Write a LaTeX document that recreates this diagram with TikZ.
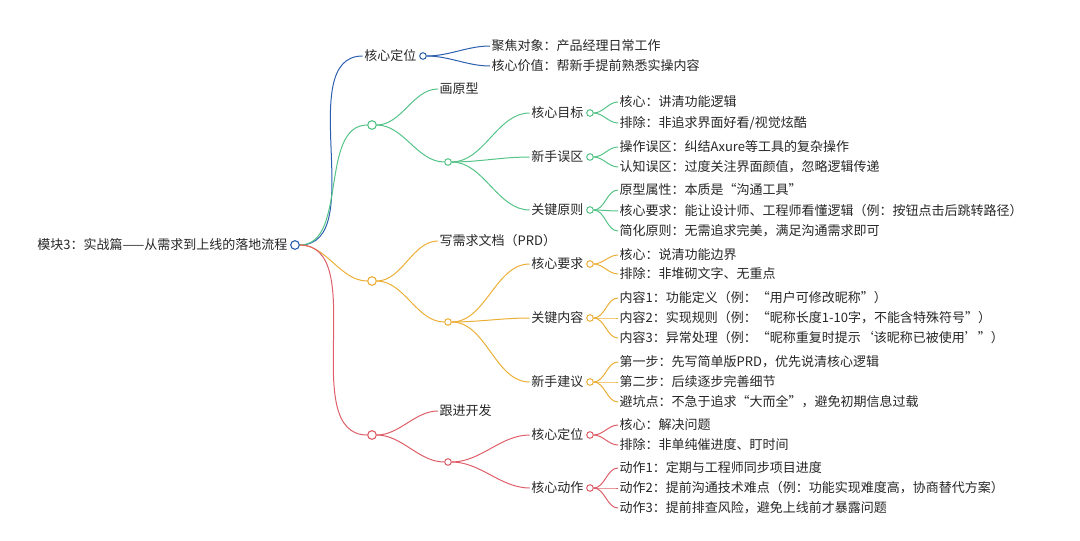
\documentclass[tikz,border=0pt]{standalone}
\usepackage{fontspec}
\setmainfont{Noto Sans CJK SC}
\begin{document}
\begin{tikzpicture}[x=1pt,y=-1pt,
  txt/.style={anchor=west,inner sep=1.5pt,font=\fontsize{13}{15}\selectfont,text=black!85},
  dot/.style={circle,minimum size=9pt,inner sep=0pt},
  sdot/.style={circle,minimum size=7pt,inner sep=0pt},
  ln/.style={draw=#1,line width=1pt,out=0,in=180,looseness=0.9}]
\definecolor{cb}{RGB}{45,95,175}
\definecolor{cg}{RGB}{85,195,135}
\definecolor{co}{RGB}{235,175,55}
\definecolor{cr}{RGB}{222,95,105}
\useasboundingbox (0,0) rectangle (1080,541);
% root
\node[txt,anchor=east] (roott) at (289,245) {模块3：实战篇——从需求到上线的落地流程};
\node[dot] (root) at (295,245) {};
% blue
\node[txt,anchor=east] (bt) at (418,56) {核心定位};
\node[sdot] (b) at (423,56) {};
\node[txt] (b1) at (490,46) {聚焦对象：产品经理日常工作};
\node[txt] (b2) at (490,66) {核心价值：帮新手提前熟悉实操内容};
\draw[ln=cb] (root) to (bt.west);
\foreach \l in {b1,b2} \draw[ln=cb] (b) to (\l.west);
% green
\node[dot] (g) at (372,125) {};
\node[txt] (gt) at (438,89) {画原型};
\node[sdot] (g2) at (448,162) {};
\node[txt,anchor=east] (g21t) at (585,113) {核心目标}; \node[sdot] (g21) at (590,113) {};
\node[txt,anchor=east] (g22t) at (585,157) {新手误区}; \node[sdot] (g22) at (590,157) {};
\node[txt,anchor=east] (g23t) at (585,210) {关键原则}; \node[sdot] (g23) at (590,210) {};
\node[txt] (l1) at (618,102) {核心：讲清功能逻辑};
\node[txt] (l2) at (618,123) {排除：非追求界面好看/视觉炫酷};
\node[txt] (l3) at (618,147) {操作误区：纠结Axure等工具的复杂操作};
\node[txt] (l4) at (618,167) {认知误区：过度关注界面颜值，忽略逻辑传递};
\node[txt] (l5) at (618,190) {原型属性：本质是“沟通工具”};
\node[txt] (l6) at (618,211) {核心要求：能让设计师、工程师看懂逻辑（例：按钮点击后跳转路径）};
\node[txt] (l7) at (618,231) {简化原则：无需追求完美，满足沟通需求即可};
\draw[ln=cg] (root) to (g.west);
\draw[ln=cg] (g) to (gt.west);
\draw[ln=cg] (g) to (g2.west);
\foreach \t in {g21t,g22t,g23t} \draw[ln=cg] (g2) to (\t.west);
\foreach \l in {l1,l2} \draw[ln=cg] (g21) to (\l.west);
\foreach \l in {l3,l4} \draw[ln=cg] (g22) to (\l.west);
\foreach \l in {l5,l6,l7} \draw[ln=cg] (g23) to (\l.west);
% orange
\node[dot] (o) at (372,281) {};
\node[txt] (ot) at (438,241) {写需求文档（PRD）};
\node[sdot] (o2) at (448,322) {};
\node[txt,anchor=east] (o21t) at (585,264) {核心要求}; \node[sdot] (o21) at (590,264) {};
\node[txt,anchor=east] (o22t) at (585,318) {关键内容}; \node[sdot] (o22) at (590,318) {};
\node[txt,anchor=east] (o23t) at (585,382) {新手建议}; \node[sdot] (o23) at (590,382) {};
\node[txt] (m1) at (618,255) {核心：说清功能边界};
\node[txt] (m2) at (618,274) {排除：非堆砌文字、无重点};
\node[txt] (m3) at (618,298) {内容1：功能定义（例：“用户可修改昵称”）};
\node[txt] (m4) at (618,318) {内容2：实现规则（例：“昵称长度1-10字，不能含特殊符号”）};
\node[txt] (m5) at (618,338) {内容3：异常处理（例：“昵称重复时提示‘该昵称已被使用’”）};
\node[txt] (m6) at (618,362) {第一步：先写简单版PRD，优先说清核心逻辑};
\node[txt] (m7) at (618,382) {第二步：后续逐步完善细节};
\node[txt] (m8) at (618,402) {避坑点：不急于追求“大而全”，避免初期信息过载};
\draw[ln=co] (root) to (o.west);
\draw[ln=co] (o) to (ot.west);
\draw[ln=co] (o) to (o2.west);
\foreach \t in {o21t,o22t,o23t} \draw[ln=co] (o2) to (\t.west);
\foreach \l in {m1,m2} \draw[ln=co] (o21) to (\l.west);
\foreach \l in {m3,m4,m5} \draw[ln=co] (o22) to (\l.west);
\foreach \l in {m6,m7,m8} \draw[ln=co] (o23) to (\l.west);
% red
\node[dot] (r) at (372,435) {};
\node[txt] (rt) at (438,411) {跟进开发};
\node[sdot] (r2) at (448,462) {};
\node[txt,anchor=east] (r21t) at (585,435) {核心定位}; \node[sdot] (r21) at (590,435) {};
\node[txt,anchor=east] (r22t) at (585,488) {核心动作}; \node[sdot] (r22) at (590,488) {};
\node[txt] (n1) at (618,425) {核心：解决问题};
\node[txt] (n2) at (618,445) {排除：非单纯催进度、盯时间};
\node[txt] (n3) at (618,468) {动作1：定期与工程师同步项目进度};
\node[txt] (n4) at (618,488) {动作2：提前沟通技术难点（例：功能实现难度高，协商替代方案）};
\node[txt] (n5) at (618,508) {动作3：提前排查风险，避免上线前才暴露问题};
\draw[ln=cr] (root) to (r.west);
\draw[ln=cr] (r) to (rt.west);
\draw[ln=cr] (r) to (r2.west);
\foreach \t in {r21t,r22t} \draw[ln=cr] (r2) to (\t.west);
\foreach \l in {n1,n2} \draw[ln=cr] (r21) to (\l.west);
\foreach \l in {n3,n4,n5} \draw[ln=cr] (r22) to (\l.west);
% circles on top
\foreach \d/\c in {b/cb,g2/cg,g21/cg,g22/cg,g23/cg,o2/co,o21/co,o22/co,o23/co,r2/cr,r21/cr,r22/cr}
  \draw[\c,line width=1pt,fill=white] (\d) circle (3.3pt);
\foreach \d/\c in {root/cb,g/cg,o/co,r/cr}
  \draw[\c,line width=1.1pt,fill=white] (\d) circle (4.3pt);
\end{tikzpicture}
\end{document}
